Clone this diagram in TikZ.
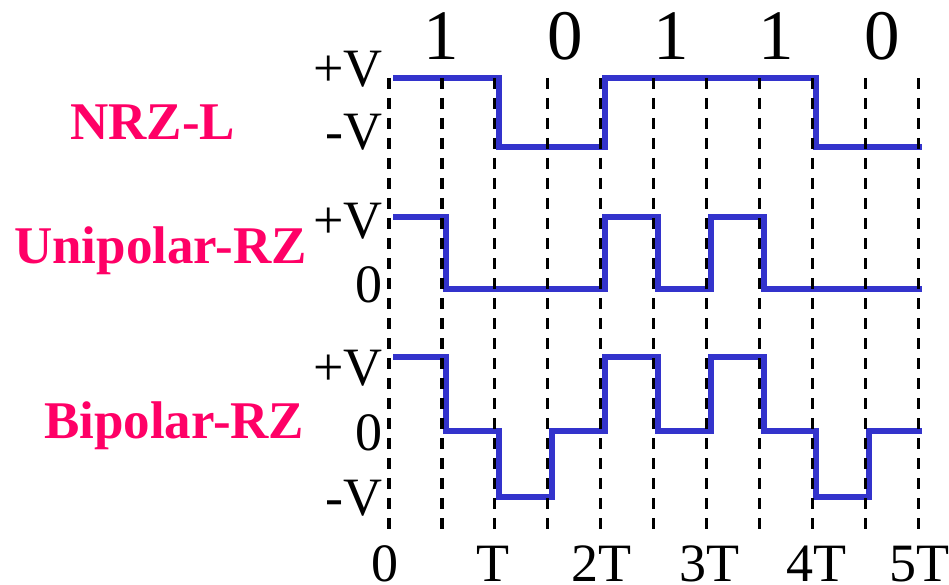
\documentclass[tikz,border=0pt]{standalone}
\usepackage{fontspec}
\setmainfont{Liberation Serif}
\definecolor{wave}{RGB}{51,51,204}
\definecolor{pinklbl}{RGB}{255,0,102}
\begin{document}
\begin{tikzpicture}[x=1pt,y=-1pt,
  axlbl/.style={font=\fontsize{54}{54}\selectfont, inner sep=0pt},
  bitlbl/.style={font=\fontsize{71}{71}\selectfont, inner sep=0pt, anchor=base},
  codelbl/.style={font=\fontsize{53}{53}\selectfont\bfseries, text=pinklbl, inner sep=0pt, anchor=base west},
  wavepath/.style={draw=wave, line width=6pt, line join=miter},
  gridline/.style={draw=black, line width=3.2pt, dash pattern=on 11pt off 9pt}]
\useasboundingbox (0,0) rectangle (949,585);

% waveforms
\begin{scope}[x=52.93pt, xshift=393pt]
\draw[wavepath] (0,78) -- (2,78) -- (2,147) -- (4,147) -- (4,78) -- (8,78) -- (8,147) -- (10,147);
\draw[wavepath] (0,217) -- (1,217) -- (1,289) -- (4,289) -- (4,217) -- (5,217) -- (5,289) -- (6,289) -- (6,217) -- (7,217) -- (7,289) -- (10,289);
\draw[wavepath] (0,357) -- (1,357) -- (1,431) -- (2,431) -- (2,497) -- (3,497) -- (3,431) -- (4,431) -- (4,357) -- (5,357) -- (5,431) -- (6,431) -- (6,357) -- (7,357) -- (7,431) -- (8,431) -- (8,497) -- (9,497) -- (9,431) -- (10,431);
\end{scope}

% dashed time grid
\begin{scope}[x=52.93pt, xshift=389pt]
\foreach \k in {0,...,10}
  \draw[gridline] (\k,78) -- (\k,535);
\end{scope}

% bit labels
\node[bitlbl] (b1) at (441,60) {1};
\node[bitlbl] (b2) at (565,60) {0};
\node[bitlbl] (b3) at (671,60) {1};
\node[bitlbl] (b4) at (776,60) {1};
\node[bitlbl] (b5) at (882,60) {0};

% level labels
\node[axlbl, anchor=base east] (n1) at (383,87) {+V};
\node[axlbl, anchor=base east] (n2) at (383,150) {-V};
\node[axlbl, anchor=base east] (u1) at (383,238) {+V};
\node[axlbl, anchor=base east] (u2) at (383,302) {0};
\node[axlbl, anchor=base east] (p1) at (383,385) {+V};
\node[axlbl, anchor=base east] (p2) at (383,450) {0};
\node[axlbl, anchor=base east] (p3) at (383,515) {-V};

% time labels
\node[axlbl, anchor=base] (t0) at (385,581) {0};
\node[axlbl, anchor=base] (t1) at (493,581) {T};
\node[axlbl, anchor=base] (t2) at (601,581) {2T};
\node[axlbl, anchor=base] (t3) at (709,581) {3T};
\node[axlbl, anchor=base] (t4) at (816,581) {4T};
\node[axlbl, anchor=base] (t5) at (919,581) {5T};

% code names
\node[codelbl] (c1) at (70,140) {NRZ-L};
\node[codelbl] (c2) at (14,263) {Unipolar-RZ};
\node[codelbl] (c3) at (44,438) {Bipolar-RZ};
\end{tikzpicture}
\end{document}
